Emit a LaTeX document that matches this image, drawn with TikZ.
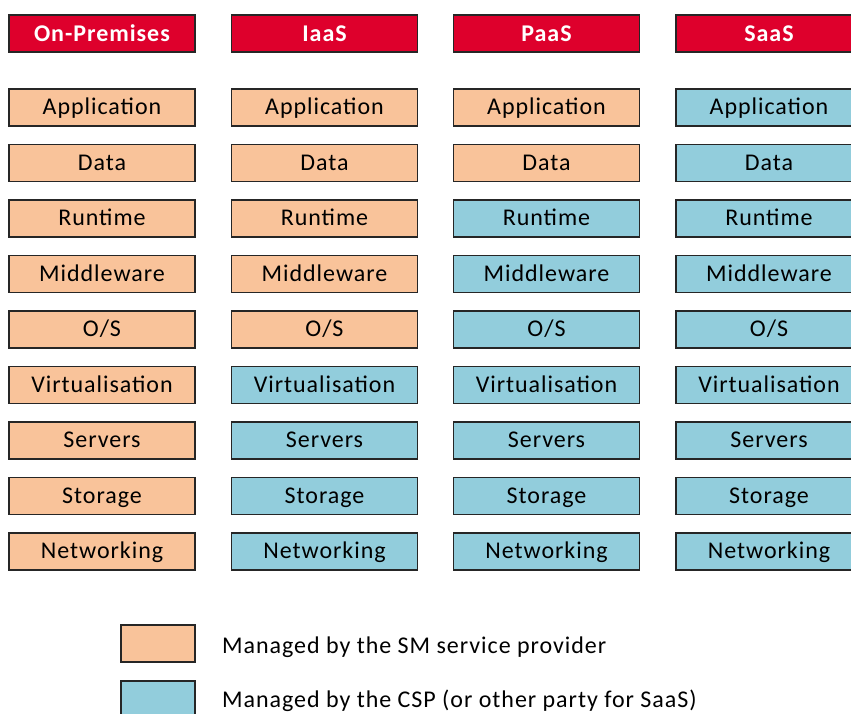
\documentclass[tikz,border=0pt]{standalone}
\usepackage{fontspec}
\setmainfont{Carlito}[LetterSpace=4]
\definecolor{hdrred}{HTML}{DE002C}
\definecolor{ownfill}{HTML}{F9C39A}
\definecolor{cspfill}{HTML}{92CDDC}
\definecolor{edge}{HTML}{262626}
\begin{document}
\begin{tikzpicture}[x=1pt,y=-1pt,
  cell/.style={draw=edge,line width=1.3pt,minimum width=186pt,minimum height=37pt,
    inner sep=0pt,text height=19pt,text depth=5pt,
    font=\fontsize{24}{26}\selectfont,text=black},
  own/.style={cell,fill=ownfill},
  csp/.style={cell,fill=cspfill},
  hdr/.style={cell,fill=hdrred,text=white,text height=20pt,text depth=4pt,
    font=\fontsize{24}{26}\selectfont\bfseries},
  key/.style={draw=edge,line width=1.3pt,minimum width=74pt,minimum height=37pt,inner sep=0pt},
  keytext/.style={anchor=base west,inner sep=0pt,font=\fontsize{24}{26}\selectfont}]
\useasboundingbox (0,0) rectangle (851,713);
% column headers
\foreach \name/\cx [count=\c] in {On-Premises/102,IaaS/324.5,PaaS/546.5,SaaS/769}
  \node[hdr] (h\c) at (\cx,33.5) {\name};
% layers: number of rows (from the top) kept by the customer in each model
\foreach \cx/\kept [count=\c] in {102/9,324.5/5,546.5/2,769/0}
  \foreach \layer [count=\r] in {Application,Data,Runtime,Middleware,O/S,Virtualisation,Servers,Storage,Networking}{
    \pgfmathsetmacro\cy{107.5+55.5*(\r-1)}
    \ifnum\r>\kept
      \node[csp] (c\c r\r) at (\cx,\cy) {\layer};
    \else
      \node[own] (c\c r\r) at (\cx,\cy) {\layer};
    \fi
  }
% legend
\node[key,fill=ownfill] (k1) at (158,643.5) {};
\node[key,fill=cspfill] (k2) at (158,699.5) {};
\node[keytext] (t1) at (222,653.3) {Managed by the SM service provider};
\node[keytext] (t2) at (222,707) {Managed by the CSP (or other party for SaaS)};
\end{tikzpicture}
\end{document}
